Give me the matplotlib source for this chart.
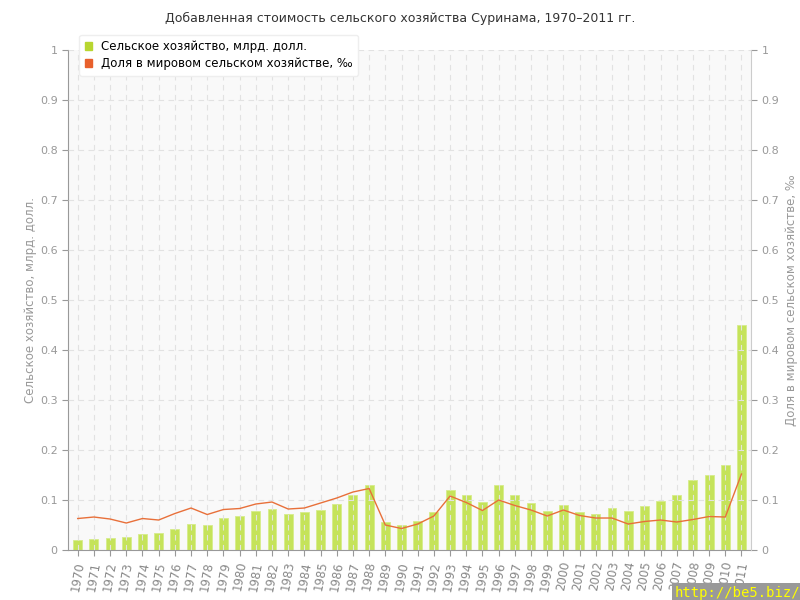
import matplotlib
matplotlib.use('Agg')
import matplotlib.pyplot as plt
from matplotlib.ticker import FixedLocator

years = list(range(1970, 2012))
# value added, bln USD
agri = [0.021, 0.023, 0.024, 0.027, 0.033, 0.034, 0.042, 0.052, 0.051, 0.065,
        0.069, 0.078, 0.082, 0.072, 0.076, 0.080, 0.093, 0.110, 0.130, 0.056,
        0.050, 0.058, 0.076, 0.120, 0.110, 0.097, 0.130, 0.110, 0.094, 0.078,
        0.090, 0.077, 0.073, 0.084, 0.079, 0.088, 0.099, 0.110, 0.140, 0.150,
        0.170, 0.450]
# share of world agriculture, per mille
share = [0.063, 0.066, 0.062, 0.054, 0.063, 0.060, 0.073, 0.084, 0.071, 0.081,
         0.083, 0.092, 0.096, 0.082, 0.084, 0.094, 0.104, 0.116, 0.123, 0.050,
         0.043, 0.052, 0.068, 0.108, 0.095, 0.079, 0.100, 0.089, 0.080, 0.068,
         0.080, 0.069, 0.064, 0.064, 0.052, 0.057, 0.060, 0.056, 0.061, 0.067,
         0.066, 0.152]
yticks = [0, 0.1, 0.2, 0.3, 0.4, 0.5, 0.6, 0.7, 0.8, 0.9, 1]
ytick_labels = ['0', '0.1', '0.2', '0.3', '0.4', '0.5', '0.6', '0.7', '0.8', '0.9', '1']

grey = '#999999'
fig = plt.figure(figsize=(8, 6), dpi=100)
ax = fig.add_axes([0.085, 0.0833, 0.854, 0.8334])
ax.set_facecolor('#f9f9f9')

ax.bar(years, agri, width=0.55, color='#c5e35a', edgecolor='#d6ec8a', linewidth=0.6, zorder=2)
ax.set_xlim(1969.4, 2011.6)
ax.set_ylim(0, 1)

ax2 = ax.twinx()
ax2.plot(years, share, color='#e8703a', linewidth=1.0, zorder=4)
ax2.set_ylim(0, 1)

for a in (ax, ax2):
    a.yaxis.set_major_locator(FixedLocator(yticks))
    a.set_yticklabels(ytick_labels)
    a.tick_params(colors=grey, labelsize=8, length=4, width=0.8)
    for s in a.spines.values():
        s.set_visible(False)

# dashed grid, drawn on top of bars like the original
ax.set_xticks(years)
ax.set_xticklabels([str(y) for y in years], rotation=80, fontsize=8.5, color='#888888')
ax.grid(True, color='#e2e2e2', linestyle=(0, (5, 4)), linewidth=0.8, zorder=3)
ax.set_axisbelow(False)
ax.spines['left'].set_visible(True)
ax.spines['left'].set_color(grey)
ax.spines['bottom'].set_visible(True)
ax.spines['bottom'].set_color(grey)
ax2.spines['right'].set_visible(True)
ax2.spines['right'].set_color('#cccccc')

ax.set_ylabel('Сельское хозяйство, млрд. долл.', color=grey, fontsize=8.5, labelpad=2)
ax2.set_ylabel('Доля в мировом сельском хозяйстве, ‰', color=grey, fontsize=8.5)

fig.text(0.5, 0.97, 'Добавленная стоимость сельского хозяйства Суринама, 1970–2011 гг.',
         ha='center', va='center', fontsize=9, color='#333333')

# legend
h1 = plt.Rectangle((0, 0), 1, 1, color='#b8d630')
h2 = plt.Rectangle((0, 0), 1, 1, color='#e8602c')
leg = ax2.legend([h1, h2], ['Сельское хозяйство, млрд. долл.', 'Доля в мировом сельском хозяйстве, ‰'],
                 loc='upper left', bbox_to_anchor=(0.008, 1.042), fontsize=8.5,
                 handlelength=0.6, handleheight=0.6, handletextpad=0.8,
                 fancybox=True, framealpha=1, edgecolor='#eeeeee', borderpad=0.45,
                 labelspacing=0.35)
leg.set_zorder(10)

fig.text(1.0, 0.0, 'http://be5.biz/', ha='right', va='bottom', fontsize=10,
         color='#ffff00', family='DejaVu Sans Mono',
         bbox=dict(facecolor='#999999', edgecolor='none', pad=2))

fig.savefig('out.png', dpi=100)
